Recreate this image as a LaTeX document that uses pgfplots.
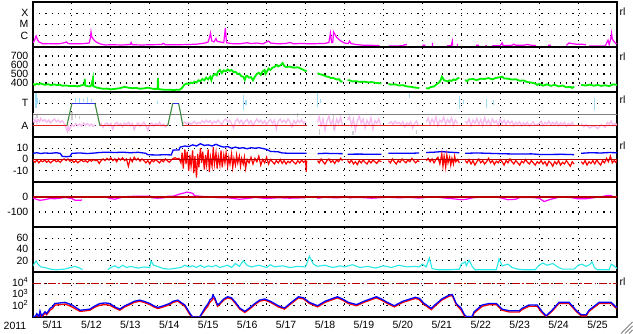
\documentclass[border=0pt]{standalone}
\usepackage{pgfplots}
\pgfplotsset{compat=1.18}
\usepackage{pgfplotstable}
\usepackage{fontspec}
\setmainfont{Liberation Sans}
\newcommand\lab{\fontsize{10.5}{11}\selectfont}
\definecolor{mag}{RGB}{255,0,255}
\definecolor{grn}{RGB}{0,240,0}
\definecolor{skyb}{RGB}{160,220,245}
\definecolor{pnk}{RGB}{248,185,240}
\definecolor{lgray}{RGB}{205,205,205}
\definecolor{mgray}{RGB}{128,128,128}
\definecolor{sred}{RGB}{225,30,30}
\definecolor{sgrn}{RGB}{60,135,60}
\definecolor{sblu}{RGB}{50,50,230}
\definecolor{dred}{RGB}{185,0,0}
\definecolor{cyn}{RGB}{40,232,232}
\pgfplotsset{
 panel/.style={
  width=584pt, height=45pt, scale only axis, anchor=south west,
  xmin=0, xmax=15, xtick={1,2,...,14}, xticklabels={},
  xmajorgrids, ymajorgrids,
  major grid style={black, line width=1.1pt, dash pattern=on 1.1pt off 5.1pt},
  axis line style={line width=1.3pt},
  major tick length=0pt, tick style={draw=none},
  yticklabel style={font=\lab, inner sep=0pt, xshift=-4.5pt, text height=7pt, text depth=0pt},
  unbounded coords=jump,
 },
}
\tikzset{rl/.style={font=\lab, anchor=west, inner sep=0pt}}
\pgfplotstableread{
d b r
0 1.1 1.0
0.05 1.0 1.0
0.1 1.3 1.15
0.15 1.0 1.0
0.18 1.53 1.3
0.22 1.1 1.0
0.31 1.47 1.35
0.35 1.3 1.2
0.44 1.77 1.6
0.5 1.9 1.75
0.56 2.2 2.05
0.7 2.25 2.1
0.82 2.3 2.15
0.9 2.2 2.05
1.0 2.07 1.9
1.1 1.85 1.7
1.21 1.6 1.5
1.35 1.65 1.55
1.46 1.7 1.6
1.6 2.0 1.9
1.72 2.2 2.05
1.85 2.25 2.1
1.97 2.2 2.05
2.1 1.9 1.8
2.23 1.7 1.6
2.36 2.0 1.9
2.49 2.2 2.1
2.6 2.4 2.3
2.74 2.5 2.4
2.85 2.4 2.3
3.0 2.2 2.1
3.1 2.0 1.9
3.21 1.85 1.75
3.35 2.0 1.9
3.51 2.2 2.1
3.6 2.4 2.3
3.72 2.5 2.4
3.8 2.3 2.2
3.9 2.07 1.95
4.03 1.33 1.2
4.1 1.0 1.0
4.28 1.0 1.0
4.35 1.4 1.3
4.41 1.77 1.6
4.5 2.2 2.0
4.54 2.5 2.3
4.6 2.7 2.5
4.62 2.95 2.7
4.67 2.7 2.55
4.74 2.07 1.95
4.79 2.2 2.1
4.9 2.6 2.5
5.0 2.8 2.7
5.1 2.7 2.6
5.2 2.3 2.2
5.31 1.8 1.7
5.44 1.5 1.4
5.56 1.8 1.7
5.7 2.2 2.1
5.82 2.5 2.4
5.95 2.6 2.5
6.1 2.4 2.3
6.3 2.0 1.9
6.46 1.8 1.7
6.6 2.2 2.1
6.82 2.8 2.7
6.95 2.7 2.6
7.1 2.3 2.2
7.31 2.0 1.9
7.5 2.4 2.3
7.82 2.8 2.7
7.95 2.6 2.5
8.1 2.3 2.2
8.31 2.1 2.0
8.5 2.4 2.3
8.82 2.8 2.7
8.95 2.6 2.5
9.1 2.3 2.2
9.28 2.0 1.9
9.5 2.4 2.3
9.82 2.75 2.65
9.92 2.66 2.55
10.05 2.2 2.1
10.23 1.77 1.65
10.3 2.0 1.9
10.5 2.6 2.5
10.69 2.95 2.85
10.77 3.0 2.9
10.87 2.2 2.1
11.0 1.77 1.6
11.08 1.2 1.1
11.13 1.05 1.0
11.28 1.05 1.0
11.33 1.47 1.35
11.54 2.07 1.95
11.72 2.2 2.1
11.9 2.2 2.1
12.05 1.7 1.6
12.23 1.55 1.45
12.49 1.55 1.45
12.56 1.77 1.65
12.74 2.07 1.95
12.95 2.07 1.95
13.08 1.47 1.35
13.18 1.1 1.05
13.33 1.6 1.5
13.51 2.3 2.2
13.77 2.3 2.2
13.95 1.6 1.5
14.08 1.2 1.1
14.21 1.2 1.1
14.28 1.6 1.5
14.54 2.3 2.2
14.85 2.3 2.2
14.97 1.9 1.8
15 1.9 1.8
}\electron
\begin{document}
\begin{tikzpicture}
\useasboundingbox (0,0) rectangle (633pt,334pt);
% Panel 1: X-ray
\begin{axis}[panel, at={(33pt,287pt)}, ymin=-7, ymax=-3, ytick={-6,-5,-4}, yticklabels={C,M,X}]
\addplot[mag, line width=1.2pt] coordinates {
(0,-6.64) (0.04,-6.4) (0.08,-6.02) (0.11,-6.3) (0.15,-6.55) (0.2,-6.62) (0.25,-6.72) (0.4,-6.7) (0.55,-6.72) (0.7,-6.7) (0.83,-6.6) (0.86,-6.55) (0.9,-6.7) (1.1,-6.72) (1.3,-6.7) (1.44,-6.65) (1.47,-6.3) (1.49,-5.67) (1.51,-6.1) (1.56,-6.35) (1.62,-6.55) (1.72,-6.72) (1.85,-6.82) (2.0,-6.8) (2.3,-6.82) (2.5,-6.78) (2.52,-6.6) (2.55,-6.8) (2.8,-6.82) (3.0,-6.8) (3.3,-6.78) (3.35,-6.68) (3.4,-6.8) (3.7,-6.8) (4.0,-6.78) (4.2,-6.75) (4.35,-6.68) (4.45,-6.62) (4.5,-6.55) (4.53,-6.2) (4.56,-5.76) (4.59,-6.45) (4.65,-6.55) (4.7,-6.25) (4.73,-6.5) (4.8,-6.55) (4.9,-6.62) (4.94,-5.31) (4.97,-6.62) (5.1,-6.7) (5.3,-6.72) (5.5,-6.62) (5.6,-6.7) (5.75,-6.65) (5.9,-6.72) (6.0,-6.55) (6.05,-6.47) (6.1,-6.65) (6.3,-6.72) (6.5,-6.68) (6.6,-6.6) (6.7,-6.72) (6.9,-6.68) (7.1,-6.72) (7.3,-6.7) (7.5,-6.68) (7.6,-6.6) (7.64,-5.76) (7.67,-6.6) (7.7,-6.6) (7.72,-5.67) (7.8,-6.15) (7.9,-6.45) (8.0,-6.65) (8.1,-6.7) (8.13,-6.47) (8.17,-6.7) (8.3,-6.78) (8.5,-6.85) (8.7,-6.85) (8.9,-6.88) (8.95,nan) (9.15,-6.92) (9.4,-6.9) (9.5,-6.88) (9.55,-6.8) (9.6,-6.8) (9.62,nan) (10.0,-6.84) (10.08,-6.84) (10.1,nan) (10.26,-6.9) (10.26,-6.64) (10.27,nan) (10.64,-6.9) (10.74,-6.88) (10.77,-6.47) (10.78,-6.88) (10.8,nan) (10.9,-6.9) (10.9,-6.73) (10.92,nan) (11.38,-6.84) (11.46,-6.84) (11.47,nan) (11.62,-6.88) (11.66,-6.88) (11.67,nan) (11.79,-6.9) (12.0,-6.88) (12.05,-6.64) (12.08,-6.88) (12.3,-6.85) (12.35,-6.75) (12.4,-6.85) (12.6,-6.84) (12.7,-6.78) (12.8,-6.85) (12.92,-6.86) (12.93,nan) (13.23,-6.84) (13.3,-6.84) (13.31,nan) (13.7,-6.85) (13.77,-6.64) (13.85,-6.7) (13.95,-6.75) (14.1,-6.75) (14.2,-6.8) (14.21,nan) (14.28,-6.9) (14.5,-6.92) (14.7,-6.9) (14.74,-6.6) (14.77,-6.4) (14.8,-6.8) (14.84,-6.2) (14.86,-5.76) (14.88,-6.3) (14.92,-6.5) (14.97,-6.7) (15,-6.7)};
\end{axis}
% Panel 2: solar wind speed
\begin{axis}[panel, at={(33pt,242pt)}, ymin=300, ymax=800, ytick={400,500,600,700}, yticklabels={400,500,600,700}]
\addplot[grn, line width=1.8pt] coordinates {
(0,389)(0.05,380)(0.1,392)(0.15,384)(0.2,395)(0.3,380)(0.4,386)(0.45,376)(0.55,384)(0.6,378)(0.69,380)(0.75,370)(0.85,372)(0.95,365)(1.05,368)(1.15,362)(1.21,370)(1.28,378)(1.32,385)(1.33,445)(1.34,372)(1.4,365)(1.46,362)(1.5,375)(1.54,452)(1.55,365)(1.6,356)(1.65,348)(1.72,342)(1.8,335)(1.9,338)(2.0,330)(2.1,334)(2.2,340)(2.3,350)(2.36,358)(2.45,348)(2.55,342)(2.65,345)(2.75,336)(2.85,340)(2.95,348)(3.05,338)(3.15,332)(3.2,340)(3.21,455)(3.22,332)(3.3,328)(3.4,324)(3.5,326)(3.6,322)(3.7,325)(3.77,326)(3.83,345)(3.88,378)(3.95,395)(4.0,390)(4.05,405)(4.1,398)(4.15,415)(4.2,405)(4.25,430)(4.3,420)(4.35,445)(4.4,430)(4.45,460)(4.5,440)(4.55,470)(4.58,430)(4.62,480)(4.67,500)(4.72,485)(4.75,525)(4.8,545)(4.85,510)(4.9,540)(4.95,530)(5.0,550)(5.05,535)(5.1,545)(5.15,520)(5.2,525)(5.25,500)(5.3,505)(5.35,475)(5.4,470)(5.44,435)(5.47,475)(5.5,480)(5.55,460)(5.6,465)(5.65,430)(5.7,470)(5.75,500)(5.8,515)(5.85,490)(5.9,530)(5.95,545)(5.97,500)(6.0,520)(6.05,560)(6.1,545)(6.15,570)(6.2,578)(6.26,600)(6.3,585)(6.35,595)(6.41,622)(6.45,590)(6.5,578)(6.6,582)(6.7,570)(6.8,575)(6.85,565)(6.9,555)(6.97,540)(7.03,530)(7.04,nan)(7.31,510)(7.35,500)(7.4,495)(7.45,488)(7.5,480)(7.55,470)(7.6,468)(7.65,455)(7.7,458)(7.75,448)(7.8,440)(7.87,440)(7.9,420)(7.95,414)(7.96,nan)(8.08,432)(8.15,428)(8.2,418)(8.3,420)(8.4,412)(8.5,415)(8.6,408)(8.7,410)(8.8,402)(8.95,395)(8.96,nan)(9.13,389)(9.2,382)(9.3,385)(9.4,372)(9.5,376)(9.6,362)(9.7,358)(9.8,350)(9.92,344)(9.93,nan)(10.1,344)(10.15,338)(10.2,352)(10.3,362)(10.35,380)(10.4,395)(10.44,410)(10.48,440)(10.5,470)(10.53,455)(10.56,430)(10.6,425)(10.65,418)(10.7,430)(10.75,422)(10.8,440)(10.85,432)(10.9,448)(10.95,459)(10.96,nan)(11.1,433)(11.15,420)(11.2,440)(11.3,445)(11.4,432)(11.5,448)(11.6,445)(11.7,455)(11.8,440)(11.9,458)(11.97,462)(12.05,470)(12.1,450)(12.2,448)(12.3,438)(12.4,442)(12.5,425)(12.6,428)(12.7,410)(12.8,405)(12.9,395)(12.95,378)(13.0,390)(13.1,370)(13.2,385)(13.3,368)(13.4,380)(13.5,362)(13.6,372)(13.7,352)(13.8,358)(13.85,345)(13.9,360)(13.91,nan)(14.08,378)(14.2,372)(14.3,382)(14.4,370)(14.5,378)(14.6,368)(14.7,375)(14.8,365)(14.9,385)(15,378)};
\end{axis}
% Panel 3: sector T/A
\begin{axis}[panel, at={(33pt,197pt)}, ymin=0, ymax=4, ytick={1,3}, yticklabels={A,T}]
\addplot[lgray, line width=1.3pt] coordinates {(0.02,1.5)(0.02,2.1)(0.03,nan)(0.1,1.7)(0.1,2.0)(0.11,nan)(1.0,1.5)(1.0,2.2)(1.01,nan)(1.1,1.7)(1.1,2.05)(1.11,nan)(1.2,1.6)(1.2,1.9)(1.21,nan)(6.8,1.8)(6.8,2.1)(6.81,nan)(7.35,0.2)(7.35,0.7)(7.36,nan)(7.72,0.6)(7.72,2.0)(7.73,nan)(8.22,0.2)(8.22,0.5)(8.23,nan)(9.85,0.3)(9.85,0.6)};
\addplot[mgray, line width=1pt] coordinates {(0,2)(15,2)};
\addplot[pnk, line width=1.3pt] coordinates {
(0,1.5)(0.03,1.3)(0.06,1.6)(0.1,1.25)(0.13,1.55)(0.17,1.35)(0.2,1.65)(0.25,1.4)(0.3,1.55)(0.35,1.3)(0.4,1.5)(0.45,1.25)(0.5,1.45)(0.55,1.6)(0.6,1.35)(0.65,1.5)(0.7,1.3)(0.75,1.45)(0.8,1.2)(0.85,0.8)(0.88,0.5)(0.9,1.0)(0.93,0.6)(0.97,0.9)(1.0,1.1)(1.05,0.95)(1.1,1.2)(1.15,1.0)(1.2,1.15)(1.25,0.95)(1.3,1.25)(1.35,1.05)(1.4,1.2)(1.45,1.0)(1.5,1.15)(1.55,0.95)(1.6,1.1)(1.61,nan)(1.72,1.0)(1.75,1.2)(1.8,0.85)(1.85,1.15)(1.9,1.25)(1.95,1.0)(2.0,1.2)(2.05,0.7)(2.1,1.15)(2.15,1.3)(2.2,1.05)(2.25,1.2)(2.3,0.9)(2.35,1.25)(2.4,1.1)(2.45,1.3)(2.5,1.0)(2.55,1.2)(2.6,0.65)(2.65,1.1)(2.7,1.25)(2.75,0.95)(2.8,1.15)(2.85,1.3)(2.9,1.0)(2.95,0.6)(3.0,1.1)(3.05,1.25)(3.1,0.95)(3.15,1.2)(3.2,1.05)(3.25,1.3)(3.3,1.0)(3.35,1.15)(3.4,0.9)(3.45,1.1)(3.46,nan)(3.85,1.2)(3.9,1.35)(3.95,1.15)(4.0,1.3)(4.05,1.1)(4.1,1.25)(4.15,1.4)(4.2,1.15)(4.25,1.3)(4.3,1.2)(4.35,1.45)(4.4,1.25)(4.45,1.5)(4.5,1.3)(4.55,1.45)(4.6,1.15)(4.65,1.4)(4.7,1.25)(4.75,1.5)(4.8,1.3)(4.85,1.1)(4.9,1.45)(4.95,1.6)(5.0,1.3)(5.05,1.5)(5.1,1.2)(5.15,0.8)(5.2,1.4)(5.25,1.6)(5.3,1.25)(5.35,1.5)(5.4,1.1)(5.45,1.4)(5.5,1.55)(5.55,1.2)(5.6,1.45)(5.65,1.0)(5.7,1.35)(5.75,1.6)(5.8,1.3)(5.85,1.5)(5.9,1.2)(5.95,1.45)(6.0,1.1)(6.05,1.4)(6.1,1.55)(6.15,1.2)(6.2,1.5)(6.25,0.7)(6.3,1.4)(6.35,1.6)(6.4,1.3)(6.45,1.5)(6.5,1.25)(6.55,1.6)(6.6,1.35)(6.65,0.9)(6.7,1.45)(6.75,1.2)(6.8,1.5)(6.85,1.3)(6.9,1.55)(6.95,1.2)(7.0,1.4)(7.01,nan)(7.31,1.3)(7.35,1.8)(7.4,1.0)(7.45,1.6)(7.5,0.6)(7.55,1.4)(7.6,1.85)(7.65,1.1)(7.7,1.5)(7.75,0.7)(7.8,1.6)(7.85,1.2)(7.9,1.75)(7.95,1.0)(7.96,nan)(8.08,1.5)(8.13,1.8)(8.18,1.0)(8.23,1.6)(8.28,0.6)(8.33,1.4)(8.38,1.85)(8.43,1.2)(8.48,1.6)(8.53,0.8)(8.58,1.5)(8.63,1.1)(8.68,1.7)(8.73,0.7)(8.78,1.45)(8.83,1.2)(8.88,1.6)(8.93,1.0)(8.94,nan)(9.13,1.2)(9.2,1.35)(9.25,1.1)(9.3,1.4)(9.35,1.2)(9.4,1.3)(9.45,1.1)(9.5,1.35)(9.55,0.9)(9.6,1.25)(9.65,1.1)(9.7,1.35)(9.75,0.8)(9.8,1.2)(9.85,1.4)(9.9,1.0)(9.91,nan)(10.1,1.3)(10.15,1.7)(10.2,1.1)(10.25,1.6)(10.3,1.2)(10.35,1.8)(10.4,1.0)(10.45,1.5)(10.5,1.3)(10.55,1.75)(10.6,1.1)(10.65,1.55)(10.7,1.25)(10.75,1.7)(10.8,1.05)(10.85,1.5)(10.9,1.2)(10.91,nan)(11.1,1.4)(11.15,1.2)(11.2,1.6)(11.25,1.0)(11.3,1.5)(11.35,1.2)(11.4,1.65)(11.45,1.1)(11.5,1.55)(11.55,1.0)(11.6,1.7)(11.65,1.2)(11.7,1.5)(11.75,1.05)(11.8,1.6)(11.85,1.25)(11.9,1.45)(11.95,1.0)(12.0,1.6)(12.05,1.2)(12.1,1.5)(12.15,1.1)(12.2,1.45)(12.25,1.2)(12.3,1.4)(12.35,1.0)(12.4,1.3)(12.45,1.15)(12.5,1.35)(12.55,1.0)(12.6,1.25)(12.65,1.1)(12.7,1.3)(12.75,0.95)(12.8,1.2)(12.85,1.35)(12.9,1.05)(13.0,1.2)(13.05,1.4)(13.1,1.0)(13.15,1.3)(13.2,1.15)(13.25,1.4)(13.3,1.05)(13.35,1.3)(13.4,1.1)(13.45,1.35)(13.5,1.0)(13.55,1.25)(13.6,1.1)(13.65,1.3)(13.7,0.95)(13.75,1.2)(13.8,1.05)(13.85,1.3)(13.9,1.0)(13.91,nan)(14.08,1.2)(14.15,0.9)(14.2,1.1)(14.3,0.8)(14.4,1.0)(14.5,0.75)(14.6,1.1)(14.7,0.85)(14.75,1.3)(14.8,1.15)(14.85,1.4)(14.9,1.0)(14.95,1.2)(15,1.1)};
\addplot[skyb, line width=1.3pt] coordinates {(0.08,2.6)(0.08,3.9)(0.09,nan)(0.12,2.9)(0.12,3.5)(0.13,nan)(0.16,3.0)(0.16,3.3)(0.17,nan)(1.1,3.1)(1.1,3.45)(1.11,nan)(1.2,3.05)(1.2,3.5)(1.21,nan)(1.3,3.1)(1.3,3.35)(1.31,nan)(1.4,3.05)(1.4,3.55)(1.41,nan)(1.5,3.1)(1.5,3.4)(1.51,nan)(3.2,2.9)(3.2,3.2)(3.21,nan)(5.4,2.4)(5.4,3.7)(5.41,nan)(5.47,2.8)(5.47,3.3)(5.48,nan)(7.3,2.7)(7.3,3.9)(7.31,nan)(7.38,3.0)(7.38,3.4)(7.39,nan)(9.67,3.5)(9.67,3.9)(9.68,nan)(10.95,2.5)(10.95,3.6)(10.96,nan)(11.05,2.9)(11.05,3.3)(11.06,nan)(11.65,2.6)(11.65,3.4)(11.66,nan)(11.82,2.8)(11.82,3.3)(11.83,nan)(14.42,2.4)(14.42,3.5)};
\addplot[sred, line width=1.1pt] coordinates {(0,1)(0.87,1)(0.88,nan)(1.72,1)(3.46,1)(3.47,nan)(3.85,1)(7.03,1)(7.04,nan)(7.31,1)(15,1)};
\addplot[sgrn, line width=1.1pt] coordinates {(0.87,1)(1.0,3)(1.01,nan)(1.59,3)(1.72,1)(1.73,nan)(3.46,1)(3.59,3)(3.6,nan)(3.74,3)(3.85,1)};
\addplot[sblu, line width=1.1pt] coordinates {(1.0,3)(1.59,3)(1.6,nan)(3.59,3)(3.74,3)};
\end{axis}
% Panel 4: IMF
\begin{axis}[panel, at={(33pt,152pt)}, ymin=-20, ymax=20, ytick={-10,0,10}, yticklabels={-10,0,10}]
\addplot[blue, line width=1.3pt] coordinates {
(0,5.5)(0.1,6)(0.2,5.3)(0.3,5.8)(0.45,5.5)(0.6,6)(0.7,5.4)(0.75,2.8)(0.85,2.5)(0.95,2.7)(1.0,5.5)(1.2,5.8)(1.4,5.3)(1.6,5.8)(1.7,6.2)(1.9,6.5)(2.1,6.2)(2.3,6.5)(2.5,6.0)(2.7,6.4)(2.9,5.5)(2.95,4.2)(3.2,4.0)(3.4,4.3)(3.55,4.0)(3.6,8.5)(3.75,8.5)(3.78,11)(3.9,12)(4.0,11.5)(4.1,13)(4.2,12)(4.3,14)(4.4,12.5)(4.5,13)(4.6,12)(4.7,13.5)(4.8,12)(4.9,11)(5.0,11.5)(5.1,10)(5.2,11)(5.3,10)(5.4,10.5)(5.5,9.5)(5.6,10.5)(5.7,10)(5.8,10.5)(5.9,9.8)(6.0,9)(6.1,7.2)(6.2,7.0)(6.3,6.8)(6.4,5.8)(6.6,5.5)(6.8,5.6)(7.03,5.5)(7.04,nan)(7.31,5.2)(7.5,5.5)(7.7,5.3)(7.95,5.2)(7.96,nan)(8.08,4.7)(8.4,4.8)(8.7,4.6)(8.95,4.7)(8.96,nan)(9.13,5.5)(9.4,5.6)(9.7,5.5)(9.92,5.8)(9.93,nan)(10.1,6.2)(10.3,6.5)(10.5,7.0)(10.7,6.5)(10.95,6.0)(10.96,nan)(11.1,5.5)(11.4,5.8)(11.7,5.5)(11.97,5.2)(12.2,5.0)(12.5,4.8)(12.8,5.0)(13.0,4.5)(13.3,4.5)(13.6,4.6)(13.9,4.3)(13.91,nan)(14.08,5.5)(14.3,6)(14.6,5.8)(14.8,6.2)(15,6)};
\addplot[red, line width=1.2pt] coordinates {
(0,-1)(0.05,-2.5)(0.1,-0.5)(0.15,-3)(0.2,-1)(0.25,-2)(0.3,-0.5)(0.35,-2.5)(0.4,-1)(0.45,-3)(0.5,-1.5)(0.55,-0.5)(0.6,-2)(0.65,-1)(0.7,-2.5)(0.75,-0.5)(0.8,0.5)(0.85,-1)(0.9,0.5)(0.95,-1.5)(1.0,-0.5)(1.05,-2.5)(1.1,-1)(1.15,-3)(1.2,-1.5)(1.25,-0.5)(1.3,-2)(1.35,-1)(1.4,-2.5)(1.45,-0.5)(1.5,-1.5)(1.55,0)(1.6,-1)(1.65,-0.5)(1.7,-3.5)(1.75,-1)(1.8,0.5)(1.85,-1)(1.9,1)(1.95,-0.5)(2.0,1.5)(2.05,-1)(2.1,0.5)(2.15,-2)(2.2,1)(2.25,-0.5)(2.3,1.5)(2.35,-1)(2.4,0.5)(2.45,-6)(2.5,1)(2.55,-2)(2.6,2)(2.65,-0.5)(2.7,1)(2.75,-1.5)(2.8,0.5)(2.85,-1)(2.9,-3)(2.95,-1)(3.0,-4)(3.05,-0.5)(3.1,-2)(3.15,0)(3.2,-1.5)(3.25,-3)(3.3,-0.5)(3.35,-2)(3.4,0.5)(3.45,-1)(3.5,-2.5)(3.55,-0.5)(3.6,1)(3.65,1.5)(3.7,0.5)(3.75,1)(3.8,-3)(3.83,6)(3.86,-8)(3.9,9)(3.93,-4)(3.96,7)(4.0,-10)(4.03,4)(4.06,-6)(4.1,8)(4.13,-12)(4.16,3)(4.2,-16)(4.23,5)(4.26,-7)(4.3,10)(4.33,-3)(4.36,7)(4.4,-9)(4.43,4)(4.46,-5)(4.5,9)(4.53,-11)(4.56,2)(4.6,-6)(4.63,11)(4.66,-4)(4.7,6)(4.73,-8)(4.76,3)(4.8,-5)(4.83,8)(4.86,-7)(4.9,4)(4.93,-3)(4.96,6)(5.0,-6)(5.03,2)(5.06,-4)(5.1,5)(5.13,-7)(5.16,1)(5.2,-5)(5.23,4)(5.26,-3)(5.3,3)(5.33,-6)(5.36,1)(5.4,-4)(5.43,2)(5.46,-8)(5.5,0)(5.55,-3)(5.6,2)(5.65,-4)(5.7,1)(5.75,-2)(5.8,3)(5.85,-5)(5.9,0)(5.95,-3)(6.0,2)(6.05,-4)(6.1,0)(6.15,-2)(6.2,-4)(6.25,-1)(6.3,-3)(6.35,0)(6.4,-3.5)(6.45,-1)(6.5,-4)(6.55,-1.5)(6.6,-3)(6.65,-0.5)(6.7,-2.5)(6.75,-4)(6.8,-1)(6.85,-3)(6.9,-0.5)(6.95,-2.5)(7.0,-1)(7.02,-11)(7.03,-1)(7.04,nan)(7.31,-1)(7.35,-3)(7.4,0.5)(7.45,-2)(7.5,-4)(7.55,-1)(7.6,0.5)(7.65,-2.5)(7.7,-1)(7.75,-3.5)(7.8,-0.5)(7.85,-2)(7.9,1)(7.95,-1)(7.96,nan)(8.08,-1)(8.13,-3)(8.18,-0.5)(8.23,-4)(8.28,-2)(8.33,-4.5)(8.38,-1)(8.43,-3)(8.48,-0.5)(8.53,-2.5)(8.58,-4)(8.63,-1)(8.68,-3)(8.73,-0.5)(8.78,-2)(8.83,-3.5)(8.88,-1)(8.95,-2)(8.96,nan)(9.13,-1)(9.18,-3)(9.23,0.5)(9.28,-2)(9.33,-4)(9.38,-1)(9.43,-2.5)(9.48,0.5)(9.53,-1.5)(9.58,-3)(9.63,-0.5)(9.68,-2)(9.73,1)(9.78,-1)(9.83,-3)(9.88,-1)(9.92,-2)(9.93,nan)(10.1,-1)(10.15,1)(10.2,-2)(10.25,0.5)(10.3,-3)(10.35,0)(10.4,2)(10.45,-4)(10.5,5)(10.53,-6)(10.56,3)(10.6,-7)(10.63,4)(10.66,-3)(10.7,2)(10.73,-5)(10.76,1)(10.8,-4)(10.83,3)(10.86,-2)(10.9,0)(10.95,-3)(10.96,nan)(11.1,-1)(11.15,-3)(11.2,0)(11.25,-4)(11.3,-1)(11.35,-5)(11.4,-2)(11.45,0.5)(11.5,-3)(11.55,-1)(11.6,-4)(11.65,-2)(11.7,1)(11.75,-3)(11.8,-1)(11.85,-4.5)(11.9,-1.5)(11.95,-3)(12.0,0)(12.05,-2)(12.1,-5)(12.15,-1)(12.2,-3)(12.25,0.5)(12.3,-2)(12.35,-4)(12.4,-1)(12.45,-3)(12.5,-5)(12.55,-1.5)(12.6,-3)(12.65,0)(12.7,-2.5)(12.75,-4)(12.8,-1)(12.85,-3)(12.9,-5)(12.95,-2)(13.0,-3.5)(13.05,-1)(13.1,-4)(13.15,-2)(13.2,-5.5)(13.25,-1.5)(13.3,-3)(13.35,-6)(13.4,-2)(13.45,-4)(13.5,-1)(13.55,-5)(13.6,-2.5)(13.65,-4)(13.7,-1)(13.75,-3.5)(13.8,-6)(13.85,-2)(13.9,-4)(13.91,nan)(14.08,-2)(14.13,-4)(14.18,-1)(14.23,-5)(14.28,-2)(14.33,-3.5)(14.38,-1)(14.43,-4)(14.48,-0.5)(14.53,-3)(14.58,-5)(14.63,-1)(14.68,-3)(14.73,1)(14.78,-2)(14.83,3)(14.88,-3)(14.93,-1)(14.97,-2.5)(15,-1)};
\addplot[dred, line width=1.1pt] coordinates {(0,0)(15,0)};
\end{axis}
% Panel 5: Dst
\begin{axis}[panel, at={(33pt,107pt)}, ymin=-200, ymax=100, ytick={-100,0}, yticklabels={-100,0}]
\addplot[mag, line width=1.2pt] coordinates {
(0,-5)(0.08,-15)(0.18,-22)(0.3,-18)(0.44,-10)(0.56,-12)(0.69,-8)(0.82,-3)(0.95,-8)(1.0,-10)(1.08,-22)(1.2,-22)(1.26,-20)(1.27,nan)(1.92,-5)(2.0,-10)(2.1,-15)(2.2,-8)(2.36,2)(2.6,5)(3.0,6)(3.05,-5)(3.2,-8)(3.38,-5)(3.46,5)(3.6,5)(3.77,20)(3.9,28)(3.95,33)(4.1,25)(4.15,8)(4.3,5)(4.5,0)(4.8,-5)(5.0,-5)(5.3,-15)(5.5,-10)(5.7,-3)(6.0,-10)(6.3,-5)(6.6,-8)(7.0,-5)(7.01,nan)(7.3,-8)(7.5,-2)(7.8,-6)(8.0,-2)(8.01,nan)(8.1,-5)(8.4,-3)(8.7,-8)(8.95,-4)(9.1,-2)(9.4,-5)(9.7,-3)(9.9,-7)(10.0,-5)(10.2,0)(10.3,2)(10.5,-5)(10.8,-12)(11.0,-18)(11.13,-15)(11.3,-5)(11.5,-1)(11.9,0)(12.0,-5)(12.2,-18)(12.4,-15)(12.5,-4)(12.8,-3)(13.0,-8)(13.13,-30)(13.3,-15)(13.5,-2)(13.8,-3)(14.0,-12)(14.2,-12)(14.4,-5)(14.6,2)(14.75,10)(14.85,10)(14.9,0)(15,-2)};
\addplot[dred, line width=1.1pt] coordinates {(0,0)(15,0)};
\end{axis}
% Panel 6
\begin{axis}[panel, at={(33pt,62pt)}, ymin=0, ymax=80, ytick={20,40,60}, yticklabels={20,40,60}]
\addplot[cyn, line width=1.1pt] coordinates {
(0,11)(0.08,19.6)(0.13,14)(0.2,9)(0.3,8)(0.45,5)(0.6,4)(0.8,5)(1.08,10)(1.2,7)(1.27,4)(1.28,nan)(1.92,4)(2.0,8)(2.1,11)(2.2,7)(2.3,12)(2.4,8)(2.5,10)(2.7,7)(2.85,9)(3.0,8)(3.03,19.6)(3.1,12)(3.2,10)(3.35,6)(3.5,5)(3.7,7)(3.8,8)(3.9,12)(4.0,9)(4.1,11)(4.2,8)(4.3,12)(4.4,8)(4.5,11)(4.6,9)(4.7,12)(4.79,8)(4.9,10)(5.0,12)(5.1,8)(5.2,15)(5.3,10)(5.4,20)(5.5,12)(5.6,9)(5.8,12)(6.0,8)(6.1,13)(6.2,9)(6.4,11)(6.6,8)(6.8,10)(7.0,9)(7.1,28)(7.2,14)(7.3,10)(7.5,12)(7.7,8)(7.9,11)(8.0,9)(8.2,13)(8.4,8)(8.6,10)(8.8,7)(9.0,11)(9.2,8)(9.4,12)(9.6,9)(9.8,10)(9.92,9)(10.0,14)(10.1,9)(10.18,25)(10.25,6)(10.4,4)(10.7,4)(10.95,5)(11.0,14)(11.1,18)(11.13,11)(11.2,21)(11.28,10)(11.35,4)(11.6,4)(11.9,4)(11.97,23)(12.05,11)(12.2,14)(12.3,8)(12.45,5)(12.6,4)(12.9,4)(13.0,12)(13.1,16)(13.2,12)(13.35,15)(13.5,8)(13.6,5)(13.9,5)(14.0,12)(14.1,14)(14.2,10)(14.3,13)(14.36,18)(14.42,8)(14.5,4)(14.8,4)(14.85,14)(14.9,12)(15,6)};
\end{axis}
% Panel 7: electrons
\begin{axis}[panel, at={(33pt,17pt)}, ymin=1, ymax=5, ytick={2,3,4},
  yticklabels={10\textsuperscript{2},10\textsuperscript{3},10\textsuperscript{4}},
  extra x ticks={0.5,1.5,...,14.5},
  extra x tick labels={5/11,5/12,5/13,5/14,5/15,5/16,5/17,5/18,5/19,5/20,5/21,5/22,5/23,5/24,5/25},
  extra x tick style={grid=none, xticklabel style={font=\lab, inner sep=0pt, anchor=north, yshift=-4pt}}]
\addplot[dred, line width=1.2pt, dash pattern=on 8pt off 2.5pt on 1.5pt off 2.5pt] coordinates {(0,4)(15,4)};
\addplot[red, line width=1.3pt] table[x=d, y=r] {\electron};
\addplot[blue, line width=1.3pt] table[x=d, y=b] {\electron};
\end{axis}
\node[rl] at (619.5pt,322pt) {rl};
\node[rl] at (619.5pt,277pt) {rl};
\node[rl] at (619.5pt,234pt) {rl};
\node[rl] at (619.5pt,188pt) {rl};
\node[rl] at (619.5pt,52pt) {rl};
\node[font=\lab] at (15pt,8pt) {2011};
\draw[gray, line width=0.8pt] (621pt,0.5pt) -- (632.5pt,12pt) (625pt,0.5pt) -- (632.5pt,8pt) (629pt,0.5pt) -- (632.5pt,4pt);
\end{tikzpicture}
\end{document}
